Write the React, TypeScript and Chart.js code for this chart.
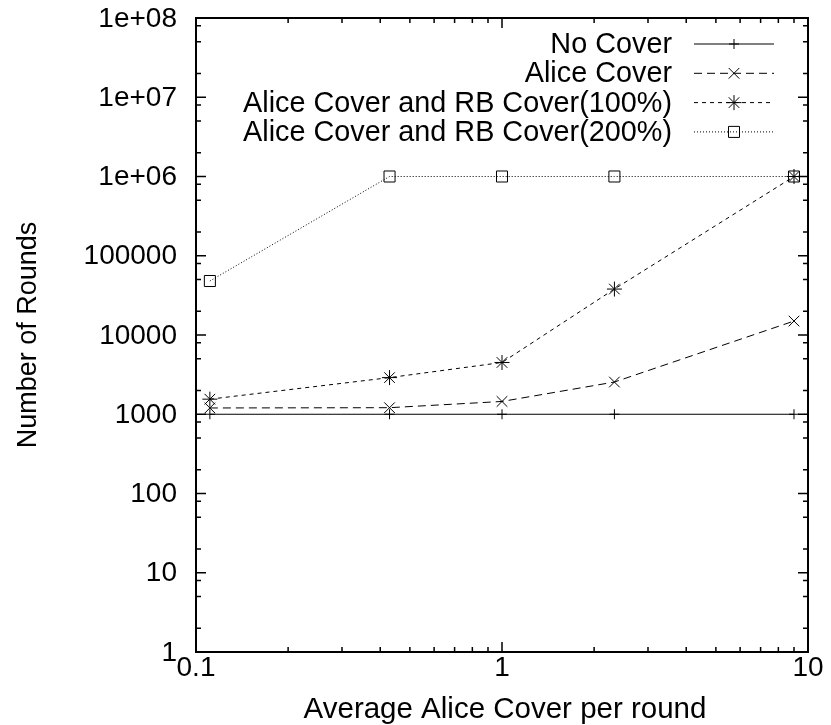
import React, { useEffect, useRef } from 'react';
import { Chart, registerables } from 'chart.js';
import { drawPoint } from 'chart.js/helpers';

Chart.register(...registerables);

// Average Alice cover per round (x) and rounds survived (y) for each strategy
const coverPerRound = [0.111, 0.429, 1, 2.33, 9];
const noCover = [1000, 1000, 1000, 1000, 1000];
const aliceCover = [1200, 1210, 1450, 2550, 15000];
const aliceRb100 = [1550, 2900, 4500, 38000, 1000000];
const aliceRb200 = [48000, 1000000, 1000000, 1000000, 1000000];

const seriesNames = [
  'No Cover',
  'Alice Cover',
  'Alice Cover and RB Cover(100%)',
  'Alice Cover and RB Cover(200%)',
];

const xTickValues = [0.1, 1, 10];
const xTickLabels = ['0.1', '1', '10'];
const yTickValues = [1, 10, 100, 1000, 10000, 100000, 1e6, 1e7, 1e8];
const yTickLabels = ['1', '10', '100', '1000', '10000', '100000', '1e+06', '1e+07', '1e+08'];
const xMinorSteps = [2, 3, 4, 5, 6, 7, 8, 9];
const yMinorSteps = [2, 5, 8];

const xAxisTitle = 'Average Alice Cover per round';
const yAxisTitle = 'Number of Rounds';

const FAMILY = '"Liberation Sans", Arial, Helvetica, sans-serif';
const TICK_FONT = `28px ${FAMILY}`;
const KEY_FONT = `28.8px ${FAMILY}`;
const XTITLE_FONT = `29.5px ${FAMILY}`;
const YTITLE_FONT = `27px ${FAMILY}`;

const seriesValues = [noCover, aliceCover, aliceRb100, aliceRb200];
const seriesDash = [[], [8, 5], [4, 4], [1, 2]];
const seriesPointStyle = ['cross', 'crossRot', 'star', 'rect'];
const seriesPointRadius = [5, 7.5, 7.5, 7.8];

const framePlugin = {
  id: 'gnuFrame',
  afterDraw(chart: any) {
    const { ctx, chartArea: a, scales } = chart;
    const xs = scales.x;
    const ys = scales.y;
    ctx.save();
    ctx.strokeStyle = '#000';
    ctx.fillStyle = '#000';
    ctx.lineWidth = 1.5;
    ctx.setLineDash([]);

    const vTick = (px: number, len: number) => {
      ctx.beginPath();
      ctx.moveTo(px, a.bottom);
      ctx.lineTo(px, a.bottom - len);
      ctx.moveTo(px, a.top);
      ctx.lineTo(px, a.top + len);
      ctx.stroke();
    };
    const hTick = (py: number, len: number) => {
      ctx.beginPath();
      ctx.moveTo(a.left, py);
      ctx.lineTo(a.left + len, py);
      ctx.moveTo(a.right, py);
      ctx.lineTo(a.right - len, py);
      ctx.stroke();
    };

    // x ticks: decades plus minor steps
    xTickValues.forEach((v, i) => {
      vTick(xs.getPixelForValue(v), 10);
      if (i < xTickValues.length - 1) {
        xMinorSteps.forEach((m) => vTick(xs.getPixelForValue(v * m), 5));
      }
    });
    // y ticks
    yTickValues.forEach((v, i) => {
      hTick(ys.getPixelForValue(v), 10);
      if (i < yTickValues.length - 1) {
        yMinorSteps.forEach((m) => hTick(ys.getPixelForValue(v * m), 5));
      }
    });

    // frame
    ctx.lineWidth = 2;
    ctx.strokeRect(a.left, a.top, a.right - a.left, a.bottom - a.top);

    // tick labels
    ctx.font = TICK_FONT;
    ctx.textAlign = 'right';
    ctx.textBaseline = 'middle';
    yTickValues.forEach((v, i) => {
      ctx.fillText(yTickLabels[i], a.left - 19, ys.getPixelForValue(v) + 1);
    });
    ctx.textAlign = 'center';
    ctx.textBaseline = 'alphabetic';
    xTickValues.forEach((v, i) => {
      ctx.fillText(xTickLabels[i], xs.getPixelForValue(v), 676);
    });

    // axis titles
    ctx.font = XTITLE_FONT;
    ctx.fillText(xAxisTitle, (a.left + a.right) / 2 + 3, 718);
    ctx.save();
    ctx.font = YTITLE_FONT;
    ctx.translate(36, (a.top + a.bottom) / 2);
    ctx.rotate(-Math.PI / 2);
    ctx.fillText(yAxisTitle, 0, 0);
    ctx.restore();

    // key in the top right corner
    ctx.font = KEY_FONT;
    chart.data.datasets.forEach((ds: any, i: number) => {
      const rowY = 44 + i * 29.3;
      ctx.textAlign = 'right';
      ctx.textBaseline = 'middle';
      ctx.fillStyle = '#000';
      ctx.fillText(ds.label, 672, rowY + 1);
      ctx.lineWidth = 1;
      ctx.strokeStyle = '#000';
      ctx.setLineDash(ds.borderDash);
      ctx.beginPath();
      ctx.moveTo(694, rowY);
      ctx.lineTo(774, rowY);
      ctx.stroke();
      ctx.setLineDash([]);
      ctx.fillStyle = 'rgba(0,0,0,0)';
      drawPoint(ctx, { pointStyle: ds.pointStyle, radius: ds.pointRadius, rotation: 0, borderWidth: 1 }, 734, rowY);
    });
    ctx.restore();
  },
};

export default function App() {
  const canvasRef = useRef<HTMLCanvasElement | null>(null);

  useEffect(() => {
    const canvas = canvasRef.current;
    if (!canvas) return;
    const datasets = seriesNames.map((name, i) => ({
      label: name,
      data: coverPerRound.map((x, j) => ({ x, y: seriesValues[i][j] })),
      borderColor: '#000',
      borderWidth: 1,
      borderDash: seriesDash[i],
      pointStyle: seriesPointStyle[i],
      pointRadius: seriesPointRadius[i],
      pointBorderColor: '#000',
      pointBackgroundColor: 'rgba(0,0,0,0)',
      pointBorderWidth: 1,
      fill: false,
      tension: 0,
    }));
    const chart = new Chart(canvas, {
      type: 'line',
      data: { datasets },
      options: {
        animation: false,
        responsive: false,
        devicePixelRatio: 1,
        layout: { padding: { top: 18, right: 23, bottom: 0, left: 0 } },
        plugins: { legend: { display: false }, tooltip: { enabled: false } },
        scales: {
          x: {
            type: 'logarithmic',
            min: 0.1,
            max: 10,
            grid: { display: false },
            border: { display: false },
            ticks: { display: false },
            afterFit: (s: any) => {
              s.height = 73;
            },
          },
          y: {
            type: 'logarithmic',
            min: 1,
            max: 1e8,
            grid: { display: false },
            border: { display: false },
            ticks: { display: false },
            afterFit: (s: any) => {
              s.width = 196;
            },
          },
        },
      },
      plugins: [framePlugin],
    } as any);
    return () => chart.destroy();
  }, []);

  return (
    <div style={{ position: 'absolute', left: 0, top: 0, width: 831, height: 725, background: '#fff' }}>
      <canvas ref={canvasRef} width={831} height={725} />
    </div>
  );
}
